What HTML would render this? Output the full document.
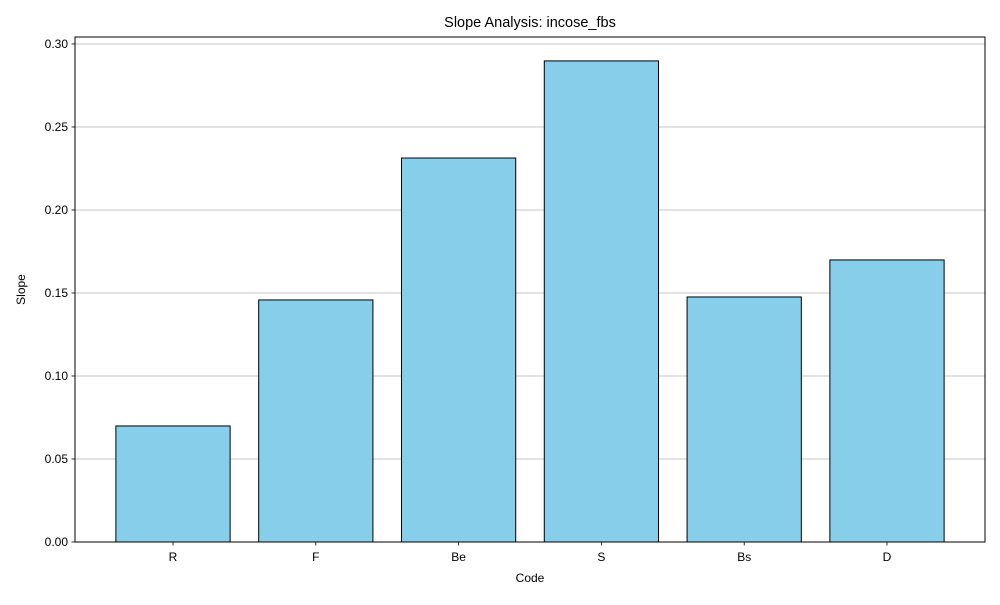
<!DOCTYPE html>
<html><head><meta charset="utf-8"><style>
body{margin:0;background:#fff;font-family:"Liberation Sans","DejaVu Sans",sans-serif;}
</style></head><body>
<svg id="chart" width="1000" height="600" xmlns="http://www.w3.org/2000/svg"></svg>
<script>
const categories = ["R","F","Be","S","Bs","D"];
const slopes = [0.0699, 0.1458, 0.2313, 0.2898, 0.1476, 0.1699];
const yTicks = [0, 0.05, 0.10, 0.15, 0.20, 0.25, 0.30];
const yTickLabels = ["0.00","0.05","0.10","0.15","0.20","0.25","0.30"];

const svg = document.getElementById('chart');
const NS = 'http://www.w3.org/2000/svg';
const L=75, R=985, T=37, B=542, yMax=0.3042;
const y = v => B - v/yMax*(B-T);
const step = 142.8, x0 = 173;
const x = i => x0 + i*step;
const bw = 0.8*step;
function mk(tag, attrs, parent){const e=document.createElementNS(NS,tag);for(const k in attrs)e.setAttribute(k,attrs[k]);(parent||svg).appendChild(e);return e;}

yTicks.forEach((v,i)=>{
  const g = mk('line',{x1:L,x2:R,y1:y(v),y2:y(v),stroke:'#b0b0b0','stroke-width':0.8});
  
  
  mk('line',{x1:L-3.5,x2:L,y1:y(v),y2:y(v),stroke:'#000','stroke-width':0.8});
  const t = mk('text',{x:L-7,y:y(v)+4,'text-anchor':'end','font-size':12});
  t.textContent = yTickLabels[i];
  
  
});
categories.forEach((c,i)=>{
  const r = mk('rect',{x:x(i)-bw/2,y:y(slopes[i]),width:bw,height:B-y(slopes[i]),fill:'#87ceeb',stroke:'#000','stroke-width':1});
  
  
  mk('line',{x1:x(i),x2:x(i),y1:B,y2:B+3.5,stroke:'#000','stroke-width':0.8});
  const t = mk('text',{x:x(i),y:B+19,'text-anchor':'middle','font-size':12});
  t.textContent = c;
  
  
});
const frame = mk('rect',{x:L,y:T,width:R-L,height:B-T,fill:'none',stroke:'#000','stroke-width':1});


const title = mk('text',{x:(L+R)/2,y:T-10,'text-anchor':'middle','font-size':14.5});
title.textContent='Slope Analysis: incose_fbs';


const xl = mk('text',{x:(L+R)/2,y:582,'text-anchor':'middle','font-size':12});
xl.textContent='Code';


const yl = mk('text',{x:0,y:0,'text-anchor':'middle','font-size':12,transform:'translate(25,'+((T+B)/2)+') rotate(-90)'});
yl.textContent='Slope';


</script>
</body></html>
